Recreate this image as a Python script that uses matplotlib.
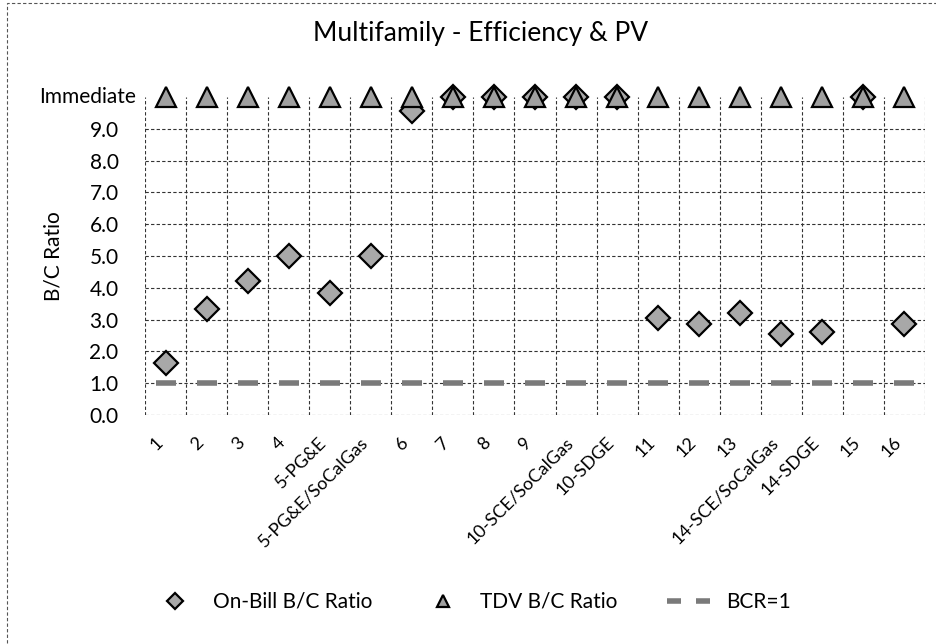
import matplotlib
matplotlib.use("Agg")
import matplotlib.pyplot as plt
from matplotlib.legend_handler import HandlerLine2D
from matplotlib.patches import Rectangle

plt.rcParams['font.family'] = ['Lato', 'DejaVu Sans']

# --- data (10 = "Immediate") ---
categories = ['1', '2', '3', '4', '5-PG&E', '5-PG&E/SoCalGas', '6', '7', '8', '9',
              '10-SCE/SoCalGas', '10-SDGE', '11', '12', '13', '14-SCE/SoCalGas',
              '14-SDGE', '15', '16']
on_bill = [1.63, 3.32, 4.2, 5.0, 3.84, 5.0, 9.55, 10, 10, 10,
           10, 10, 3.05, 2.87, 3.21, 2.55, 2.61, 10, 2.86]
tdv = [10] * len(categories)
bcr = [1.0] * len(categories)
y_ticks = [0, 1, 2, 3, 4, 5, 6, 7, 8, 9]
y_labels = [f'{v:.1f}' for v in y_ticks]
IMMEDIATE = 10

fig = plt.figure(figsize=(9.36, 6.44), dpi=100)
ax = fig.add_axes([145 / 936, 1 - 415 / 644, 780 / 936, 318 / 644])

x = list(range(len(categories)))
grid_kw = dict(color='#333333', linewidth=0.8, linestyle=(0, (3, 2)))

# BCR=1 short bars, on-bill diamonds, TDV triangles
bcr_line, = ax.plot(x, bcr, linestyle='none', marker='_', markersize=15,
                    markeredgewidth=4, color='#7a7a7a', label='BCR=1', zorder=3)
ax.plot(x, on_bill, linestyle='none', marker='D', markersize=12,
        markerfacecolor='#a8a8a8', markeredgecolor='black', markeredgewidth=1.6,
        label='On-Bill B/C Ratio', clip_on=False, zorder=4)
ax.plot(x, tdv, linestyle='none', marker='^', markersize=14,
        markerfacecolor='#a0a0a0', markeredgecolor='black', markeredgewidth=1.6,
        label='TDV B/C Ratio', clip_on=False, zorder=5)

ax.set_xlim(-0.5, len(categories) - 0.5)
ax.set_ylim(0, IMMEDIATE)

# vertical grid between categories, horizontal grid at ticks
for b in range(len(categories) + 1):
    ax.axvline(b - 0.5, **grid_kw, zorder=1)
for v in y_ticks:
    ax.axhline(v, **grid_kw, zorder=1)

for s in ax.spines.values():
    s.set_visible(False)

ax.set_yticks(y_ticks)
ax.set_yticklabels(y_labels, fontsize=15)
ax.tick_params(axis='y', length=0, pad=19)
ax.text(-0.012, IMMEDIATE, 'Immediate', transform=ax.get_yaxis_transform(),
        ha='right', va='center', fontsize=15)

ax.set_xticks(x)
ax.set_xticklabels(categories, rotation=45, ha='right', fontsize=13)
ax.tick_params(axis='x', length=0, pad=14)

ax.set_ylabel('B/C Ratio', fontsize=15)
ax.yaxis.set_label_coords(-0.104, 0.5)

fig.text(0.513, 1 - 33 / 644, 'Multifamily - Efficiency & PV',
         ha='center', va='center', fontsize=19)

# legend at the bottom
handles, labels = ax.get_legend_handles_labels()
order = [1, 2, 0]
fig.legend([handles[i] for i in order], [labels[i] for i in order],
           loc='center', bbox_to_anchor=(0.505, 1 - 602 / 644), ncol=3,
           frameon=False, fontsize=15, markerscale=0.65, columnspacing=2.4,
           handletextpad=0.8,
           handler_map={bcr_line: HandlerLine2D(numpoints=2)})

# thin dashed outer chart border (left/top)
fig.patches.append(Rectangle((0.007, -0.01), 1.2, 1.005,
                             transform=fig.transFigure, fill=False,
                             edgecolor='#555555', linewidth=0.8,
                             linestyle=(0, (3, 2))))

fig.savefig('out.png', dpi=100)
